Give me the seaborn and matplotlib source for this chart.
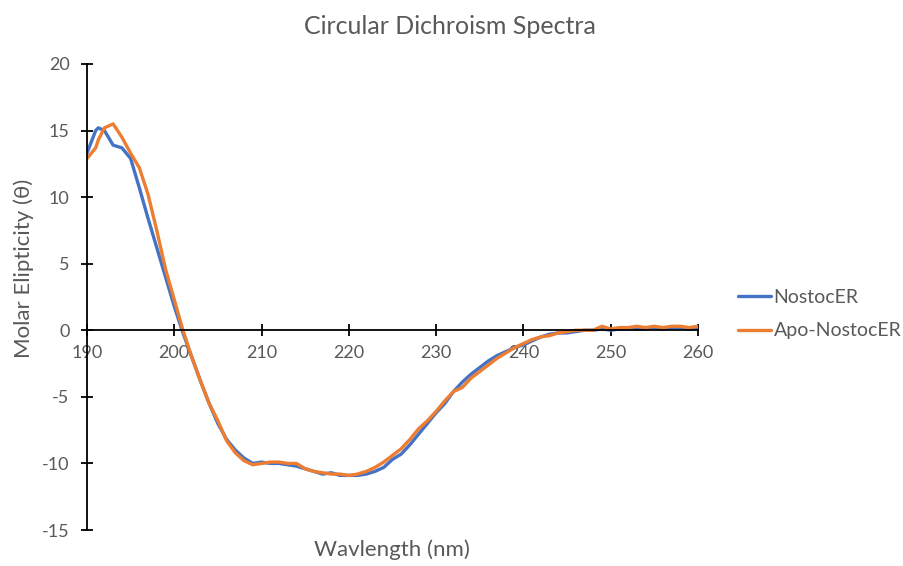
import numpy as np
import pandas as pd
import matplotlib
matplotlib.use("Agg")
import matplotlib.pyplot as plt
import seaborn as sns

wavelength = [190, 191, 191.3, 192, 193, 194, 195, 196, 197, 198, 199, 200, 201, 202, 203, 204,
              205, 206, 207, 208, 209, 210, 211, 212, 213, 214, 215, 216, 217, 218, 219,
              220, 221, 222, 223, 224, 225, 226, 227, 228, 229, 230, 231, 232, 233, 234,
              235, 236, 237, 238, 239, 240, 241, 242, 243, 244, 245, 246, 247, 248, 249,
              250, 251, 252, 253, 254, 255, 256, 257, 258, 259, 260]
nostoc = [13.3, 15.0, 15.2, 15.0, 13.9, 13.7, 12.9, 10.7, 8.4, 6.2, 4.0, 1.8, -0.2, -2.0, -3.8, -5.5,
          -7.0, -8.2, -9.0, -9.6, -10.0, -9.9, -10.0, -10.0, -10.1, -10.2, -10.4, -10.6, -10.8, -10.7, -10.9,
          -10.9, -10.9, -10.8, -10.6, -10.3, -9.7, -9.3, -8.6, -7.8, -7.0, -6.2, -5.5, -4.6, -3.9, -3.3,
          -2.8, -2.3, -1.9, -1.6, -1.3, -1.1, -0.8, -0.5, -0.3, -0.2, -0.2, -0.1, 0.0, 0.0, 0.1,
          0.0, 0.1, 0.1, 0.1, 0.1, 0.2, 0.1, 0.2, 0.2, 0.1, 0.2]
apo = [12.9, 13.7, 14.3, 15.2, 15.5, 14.5, 13.3, 12.2, 10.2, 7.5, 4.6, 2.3, 0.0, -2.0, -3.8, -5.5,
       -6.8, -8.3, -9.2, -9.8, -10.1, -10.0, -9.9, -9.9, -10.0, -10.0, -10.4, -10.6, -10.7, -10.8, -10.8,
       -10.9, -10.8, -10.6, -10.3, -9.9, -9.4, -8.9, -8.2, -7.4, -6.8, -6.1, -5.3, -4.6, -4.3, -3.6,
       -3.1, -2.6, -2.1, -1.7, -1.3, -1.0, -0.7, -0.5, -0.4, -0.2, -0.1, 0.0, 0.0, 0.0, 0.3,
       0.1, 0.2, 0.2, 0.3, 0.2, 0.3, 0.2, 0.3, 0.3, 0.2, 0.3]
series_names = ["NostocER", "Apo-NostocER"]
x_ticks = [190, 200, 210, 220, 230, 240, 250, 260]
y_ticks = [-15, -10, -5, 0, 5, 10, 15, 20]

df = pd.DataFrame({
    "Wavelength": wavelength * 2,
    "Value": nostoc + apo,
    "Series": [series_names[0]] * len(wavelength) + [series_names[1]] * len(wavelength),
})

sns.set_style("white")
plt.rcParams['font.family'] = ['Lato', 'DejaVu Sans']
grey = "#595959"

fig = plt.figure(figsize=(9.04, 5.66), dpi=100)
ax = fig.add_axes([0.0962, 0.0636, 0.6758, 0.8234])

sns.lineplot(data=df, x="Wavelength", y="Value", hue="Series",
             palette=["#4472C4", "#ED7D31"], linewidth=2.4, ax=ax, sort=False)
for line in ax.get_lines():
    line.set_solid_joinstyle('round')
    line.set_solid_capstyle('round')

ax.set_xlim(190, 260)
ax.set_ylim(-15, 20)
ax.set_xticks(x_ticks)
ax.set_yticks(y_ticks)
ax.set_xticklabels([str(t) for t in x_ticks])
ax.set_yticklabels([str(t) for t in y_ticks])

ax.spines['top'].set_visible(False)
ax.spines['right'].set_visible(False)
ax.spines['bottom'].set_position(('data', 0))
for s in ['left', 'bottom']:
    ax.spines[s].set_color('black')
    ax.spines[s].set_linewidth(1.3)
ax.tick_params(axis='both', which='major', bottom=True, left=True, direction='inout',
               length=9, width=1.3, color='black', labelsize=13, labelcolor=grey)
ax.tick_params(axis='x', pad=6)
ax.tick_params(axis='y', pad=8)

ax.set_xlabel("")
ax.set_ylabel("")
fig.text(0.434, 0.029, "Wavlength (nm)", ha='center', va='center', fontsize=16, color=grey)
fig.text(0.026, 0.525, "Molar Elipticity (θ)", ha='center', va='center', rotation=90,
         fontsize=16, color=grey)
fig.text(0.498, 0.953, "Circular Dichroism Spectra", ha='center', va='center', fontsize=18,
         color=grey)

ax.legend(loc='center left', bbox_to_anchor=(1.065, 0.463), frameon=False, fontsize=14,
          handlelength=1.7, handletextpad=0.15, labelspacing=0.85, labelcolor=grey,
          borderpad=0, borderaxespad=0)

fig.savefig("out.png", dpi=100)
